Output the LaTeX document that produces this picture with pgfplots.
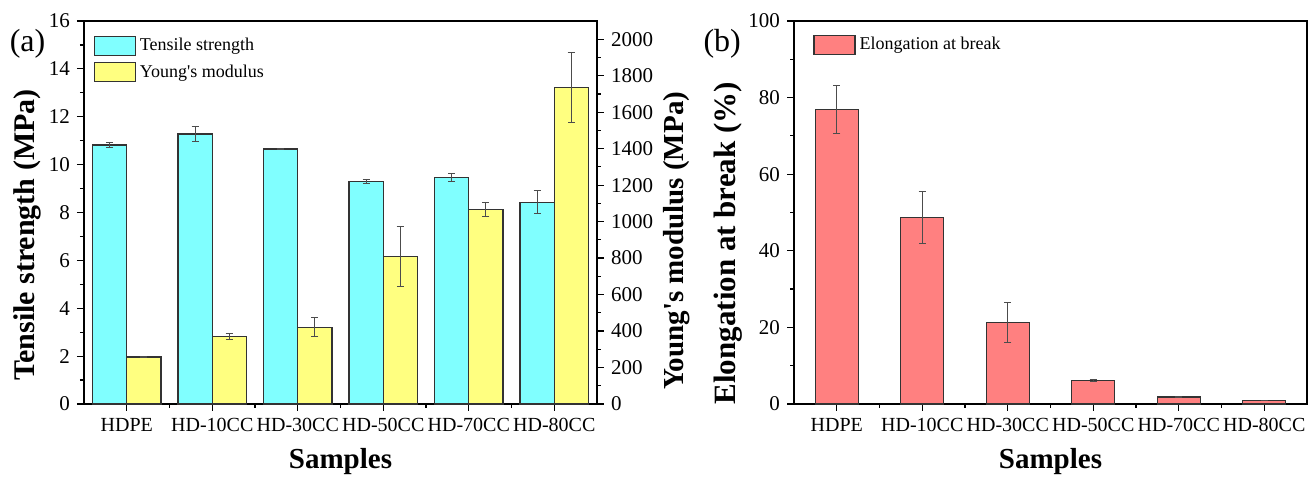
\documentclass[border=0pt]{standalone}
\usepackage{fontspec}
\setmainfont{Liberation Serif}
\usepackage{pgfplots}
\usepackage{pgfplotstable}
\pgfplotsset{compat=1.18}
\definecolor{cy}{RGB}{128,255,255}
\definecolor{yl}{RGB}{255,255,128}
\definecolor{rd}{RGB}{255,128,128}
\pgfplotsset{
 base/.style={
  scale only axis, width=256.5pt, height=191.5pt,
  xmin=-0.5, xmax=5.5, ymin=0, clip=false,
  tick align=outside,
  major tick length=3.5pt, minor tick length=2pt,
  every tick/.style={black, line width=0.6pt},
  axis line style={line width=0.8pt, black},
  yticklabel style={font=\fontsize{10.5}{12}\selectfont},
  xticklabel style={font=\fontsize{10}{12}\selectfont},
  xlabel style={font=\bfseries\fontsize{14.5}{17}\selectfont},
  /pgf/number format/assume math mode=true,
  /pgf/number format/set thousands separator={},
  legend style={draw=none, fill=none, font=\fontsize{9}{11}\selectfont, inner sep=0pt, anchor=north west, row sep=1.5pt,
    /tikz/every odd column/.append style={column sep=0pt}},
  legend cell align=left,
  legend image code/.code={\draw[#1] (0pt,-4.75pt) rectangle (20.5pt,4.75pt);},
 },
 xcat/.style={xtick={0,...,5}, xticklabels={HDPE,HD-10CC,HD-30CC,HD-50CC,HD-70CC,HD-80CC},
   minor xtick={0.5,1.5,2.5,3.5,4.5}, xtick pos=bottom, xlabel={Samples},
   xlabel style={at={(axis description cs:0.5,-0.151)}, anchor=center}},
 bars/.style={ybar, bar width=#1, bar shift=0pt, draw=black!80, line width=0.6pt,
   legend image code/.code={\draw[##1] (0pt,-4.75pt) rectangle (20.5pt,4.75pt);},
   error bars/y dir=both, error bars/y explicit,
   error bars/error bar style={black!70, line width=0.5pt},
   error bars/error mark options={rotate=90, mark size=1.8pt, black!70, line width=0.5pt}},
}
\pgfplotstableread{
x y e
-0.2 10.82 0.10
0.8 11.28 0.30
1.8 10.65 0.02
2.8 9.29 0.07
3.8 9.47 0.17
4.8 8.43 0.48
}\tensile
\pgfplotstableread{
x y e
0.2 258 4
1.2 369 18
2.2 421 52
3.2 808 165
4.2 1065 38
5.2 1735 193
}\young
\pgfplotstableread{
x y e
0 76.9 6.2
1 48.6 6.8
2 21.3 5.3
3 6.2 0.3
4 1.8 0.1
5 0.95 0.05
}\elong
\begin{document}
\begin{tikzpicture}
% panel (a), left axis
\begin{axis}[base, xcat, ymax=16, ytick={0,2,...,16}, minor y tick num=1, ytick pos=left,
  ylabel={Tensile strength (MPa)},
  ylabel style={font=\bfseries\fontsize{15}{18}\selectfont, at={(axis description cs:-0.110,0.441)}, anchor=center}]
\addplot[bars=0.4, fill=cy] table[x=x, y=y, y error=e] {\tensile};
\node[font=\fontsize{16}{19}\selectfont] at (axis description cs:-0.11,0.94) {(a)};
\end{axis}
% panel (a), right axis
\begin{axis}[base, axis x line=none, axis y line*=right, ymax=2100,
  ytick={0,200,...,2000}, minor y tick num=1,
  ylabel={Young\textquotesingle s modulus (MPa)},
  ylabel style={font=\bfseries\fontsize{14.5}{17}\selectfont, at={(axis description cs:1.156,0.426)}, anchor=center},
  legend style={at={(axis description cs:0.018,0.967)}}]
\addlegendimage{fill=cy, draw=black!80, line width=0.6pt}
\addlegendentry{Tensile strength}
\addplot[bars=0.4, fill=yl] table[x=x, y=y, y error=e] {\young};
\addlegendentry{Young\textquotesingle s modulus}
\end{axis}
% panel (b)
\begin{axis}[base, xcat, at={(355pt,0pt)}, anchor=south west,
  ymax=100, ytick={0,20,...,100}, minor y tick num=1, ytick pos=left,
  ylabel={Elongation at break (\%)},
  ylabel style={font=\bfseries\fontsize{15.5}{18}\selectfont, at={(axis description cs:-0.129,0.42)}, anchor=center},
  legend style={at={(axis description cs:0.037,0.970)}}]
\addplot[bars=0.5, fill=rd] table[x=x, y=y, y error=e] {\elong};
\addlegendentry{Elongation at break}
\node[font=\fontsize{16}{19}\selectfont] at (axis description cs:-0.140,0.94) {(b)};
\end{axis}
\pgfresetboundingbox
\useasboundingbox (-42pt,-38pt) rectangle (612pt,202pt);
\end{tikzpicture}
\end{document}
